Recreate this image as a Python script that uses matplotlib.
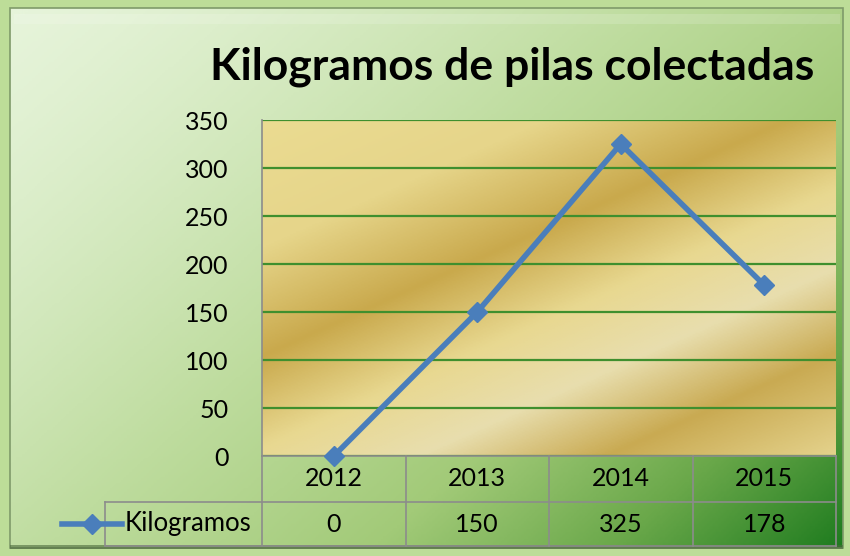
import numpy as np
import matplotlib
matplotlib.use('Agg')
import matplotlib.pyplot as plt
from matplotlib.colors import LinearSegmentedColormap
from matplotlib.patches import Rectangle
from matplotlib.lines import Line2D

years = ['2012', '2013', '2014', '2015']
kilos = [0, 150, 325, 178]
series_name = 'Kilogramos'
title = 'Kilogramos de pilas colectadas'
yticks = [0, 50, 100, 150, 200, 250, 300, 350]

plt.rcParams['font.family'] = ['Lato', 'DejaVu Sans']

W, H = 850, 556
fig = plt.figure(figsize=(W / 100, H / 100), dpi=100)
fig.patch.set_facecolor('#bddd98')

# green background panel (diagonal gradient)
bg = fig.add_axes([0, 0, 1, 1])
bg.set_xlim(0, W)
bg.set_ylim(H, 0)
bg.axis('off')
gx, gy = np.meshgrid(np.linspace(0, 1, 300), np.linspace(0, 1, 200))
t = np.clip((gx * 0.75 + gy * 0.55) / 1.3, 0, 1) ** 1.3
green = LinearSegmentedColormap.from_list('g', [
    (0.0, '#e6f4da'), (0.35, '#bedc9e'), (0.6, '#a2ca78'),
    (0.8, '#6aa84a'), (1.0, '#1f7c1f')])
bg.imshow(t, cmap=green, extent=[10, 843, 548, 8], aspect='auto', zorder=1)
bg.add_patch(Rectangle((10, 8), 833, 540, fill=False, edgecolor='#7f9a6a', lw=1.2, zorder=2))
# bevel highlight along top + shadow along bottom
bg.add_patch(Rectangle((14, 14), 826, 10, color='white', alpha=0.15, lw=0, zorder=2))
bg.add_patch(Rectangle((10, 545), 833, 4, color='#4c6a3c', alpha=0.6, lw=0, zorder=2))

# plot area
L, R, T, B = 262, 836, 120, 456
ax = fig.add_axes([L / W, 1 - B / H, (R - L) / W, (B - T) / H])
ax.set_xlim(-0.5, len(years) - 0.5)
ax.set_ylim(0, 350)

px, py = np.meshgrid(np.linspace(L, R, 400), np.linspace(T, B, 240))
s = 0.45 * px + py
gold = LinearSegmentedColormap.from_list('gold', [
    (0.0, '#ebdc92'), (0.22, '#e6d58a'), (0.4, '#c9a94c'), (0.55, '#e8d890'),
    (0.68, '#e8deae'), (0.82, '#c9aa52'), (1.0, '#e6d590')])
ax.imshow((s - 230) / 610, cmap=gold, vmin=0, vmax=1, extent=[-0.5, 3.5, 0, 350],
          aspect='auto', zorder=0)

ax.set_yticks(yticks)
ax.set_xticks([])
ax.grid(axis='y', color='#3f8f2e', lw=1.6, zorder=1)
for sp in ['top', 'right', 'bottom']:
    ax.spines[sp].set_visible(False)
ax.spines['left'].set_color('#8c8c8c')
ax.spines['left'].set_linewidth(1.2)
ax.tick_params(axis='y', length=0, pad=24, labelsize=18)

x = np.arange(len(years))
ax.plot(x, kilos, color='#4a7ebb', lw=4, marker='D', ms=10.5, zorder=5, clip_on=False)

# data table below the plot
row1 = 46 / (B - T) * 350
row2 = 90 / (B - T) * 350
xl = -0.5 - (L - 105) / (R - L) * 4
kw = dict(clip_on=False, color='#8c8c8c', lw=1.2)
ax.plot([-0.5, 3.5], [0, 0], **kw)
ax.plot([xl, 3.5], [-row1, -row1], **kw)
ax.plot([xl, 3.5], [-row2, -row2], **kw)
for i in range(len(years) + 1):
    ax.plot([i - 0.5, i - 0.5], [0, -row2], **kw)
ax.plot([xl, xl], [-row1, -row2], **kw)
for i, (yr, v) in enumerate(zip(years, kilos)):
    ax.text(i, -row1 / 2, yr, ha='center', va='center', fontsize=18, clip_on=False)
    ax.text(i, -(row1 + row2) / 2, str(v), ha='center', va='center', fontsize=18,
            clip_on=False)
fig.text(125 / W, 1 - (B + 68) / H, series_name, ha='left', va='center', fontsize=18.5)

# legend key inside the table row label
key_y = 1 - (B + 68) / H
fig.add_artist(Line2D([62 / W, 122 / W], [key_y, key_y], color='#4a7ebb', lw=4))
fig.add_artist(Line2D([92 / W], [key_y], color='#4a7ebb', marker='D', ms=10.5, lw=0))

fig.text(512 / W, 1 - 67 / H, title, ha='center', va='center', fontsize=32,
         fontweight='bold')

fig.savefig('out.png', dpi=100, facecolor=fig.get_facecolor())
